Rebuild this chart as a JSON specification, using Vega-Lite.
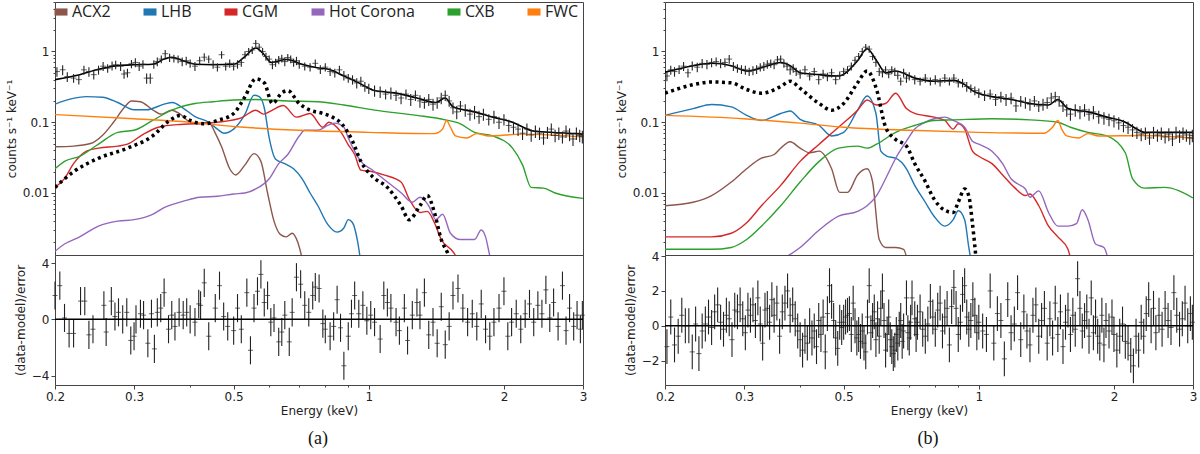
{
  "$schema": "https://vega.github.io/schema/vega-lite/v6.json",
  "padding": {"left": 4, "top": 1, "right": 2, "bottom": 0},
  "spacing": 26,
  "config": {
    "view": {"stroke": "#444", "strokeWidth": 1},
    "axis": {"labelFont": "DejaVu Sans", "labelFontSize": 12, "titleFont": "DejaVu Sans", "titleFontSize": 12, "titleFontWeight": "normal", "labelColor": "#222", "titleColor": "#222", "tickColor": "#444", "domain": false, "grid": false, "tickSize": 4, "labelPadding": 2, "labelOverlap": false, "labelFlush": false}
  },
  "datasets": {
    "da": [
      {"e":0.202,"y":0.52,"d":0.08},{"e":0.208,"y":0.55,"d":0.09},{"e":0.213,"y":0.44,"d":0.07},{"e":0.22,"y":0.42,"d":0.06},{"e":0.226,"y":0.40,"d":0.06},
      {"e":0.232,"y":0.55,"d":0.08},{"e":0.238,"y":0.52,"d":0.08},{"e":0.244,"y":0.47,"d":0.07},{"e":0.25,"y":0.55,"d":0.08},{"e":0.256,"y":0.62,"d":0.09},
      {"e":0.262,"y":0.58,"d":0.08},{"e":0.268,"y":0.63,"d":0.09},{"e":0.273,"y":0.65,"d":0.09},{"e":0.28,"y":0.62,"d":0.09},{"e":0.285,"y":0.48,"d":0.07},
      {"e":0.29,"y":0.50,"d":0.07},{"e":0.296,"y":0.67,"d":0.09},{"e":0.302,"y":0.70,"d":0.1},{"e":0.308,"y":0.62,"d":0.09},{"e":0.314,"y":0.66,"d":0.09},
      {"e":0.32,"y":0.42,"d":0.07},{"e":0.326,"y":0.42,"d":0.07},{"e":0.332,"y":0.66,"d":0.09},{"e":0.338,"y":0.72,"d":0.1},{"e":0.345,"y":0.78,"d":0.1},
      {"e":0.352,"y":0.93,"d":0.12},{"e":0.36,"y":0.82,"d":0.11},{"e":0.368,"y":0.80,"d":0.1},{"e":0.376,"y":0.78,"d":0.1},{"e":0.384,"y":0.72,"d":0.1},
      {"e":0.392,"y":0.74,"d":0.1},{"e":0.4,"y":0.68,"d":0.09},{"e":0.41,"y":0.62,"d":0.09},{"e":0.42,"y":0.74,"d":0.1},{"e":0.43,"y":0.83,"d":0.11},
      {"e":0.44,"y":0.78,"d":0.1},{"e":0.45,"y":0.66,"d":0.09},{"e":0.46,"y":0.60,"d":0.08},{"e":0.47,"y":0.90,"d":0.11},{"e":0.48,"y":0.62,"d":0.08},
      {"e":0.49,"y":0.68,"d":0.09},{"e":0.5,"y":0.62,"d":0.08},{"e":0.51,"y":0.66,"d":0.09},{"e":0.52,"y":0.70,"d":0.09},{"e":0.53,"y":0.90,"d":0.11},
      {"e":0.54,"y":1.0,"d":0.12},{"e":0.55,"y":1.05,"d":0.13},{"e":0.56,"y":1.3,"d":0.15},{"e":0.57,"y":1.15,"d":0.14},{"e":0.58,"y":1.0,"d":0.12},
      {"e":0.59,"y":0.85,"d":0.11},{"e":0.6,"y":0.78,"d":0.1},{"e":0.61,"y":0.65,"d":0.09},{"e":0.62,"y":0.70,"d":0.09},{"e":0.63,"y":0.76,"d":0.1},
      {"e":0.64,"y":0.80,"d":0.1},{"e":0.65,"y":0.72,"d":0.1},{"e":0.66,"y":0.82,"d":0.1},{"e":0.67,"y":0.78,"d":0.1},{"e":0.68,"y":0.70,"d":0.09},
      {"e":0.69,"y":0.74,"d":0.1},{"e":0.7,"y":0.66,"d":0.09},{"e":0.72,"y":0.62,"d":0.08},{"e":0.74,"y":0.60,"d":0.08},{"e":0.76,"y":0.68,"d":0.09},
      {"e":0.78,"y":0.56,"d":0.08},{"e":0.8,"y":0.60,"d":0.08},{"e":0.82,"y":0.52,"d":0.07},{"e":0.84,"y":0.50,"d":0.07},{"e":0.86,"y":0.55,"d":0.08},
      {"e":0.88,"y":0.46,"d":0.07},{"e":0.9,"y":0.42,"d":0.06},{"e":0.92,"y":0.40,"d":0.06},{"e":0.94,"y":0.36,"d":0.06},{"e":0.96,"y":0.38,"d":0.06},
      {"e":0.98,"y":0.32,"d":0.05},{"e":1.0,"y":0.30,"d":0.05},{"e":1.03,"y":0.28,"d":0.05},{"e":1.06,"y":0.27,"d":0.05},{"e":1.09,"y":0.25,"d":0.04},
      {"e":1.12,"y":0.26,"d":0.05},{"e":1.15,"y":0.24,"d":0.04},{"e":1.18,"y":0.22,"d":0.04},{"e":1.21,"y":0.25,"d":0.04},{"e":1.24,"y":0.21,"d":0.04},
      {"e":1.27,"y":0.24,"d":0.04},{"e":1.3,"y":0.20,"d":0.04},{"e":1.33,"y":0.19,"d":0.035},{"e":1.36,"y":0.21,"d":0.04},{"e":1.39,"y":0.18,"d":0.035},
      {"e":1.42,"y":0.19,"d":0.035},{"e":1.45,"y":0.22,"d":0.04},{"e":1.48,"y":0.24,"d":0.04},{"e":1.51,"y":0.20,"d":0.035},{"e":1.54,"y":0.16,"d":0.03},
      {"e":1.57,"y":0.14,"d":0.03},{"e":1.6,"y":0.17,"d":0.03},{"e":1.64,"y":0.15,"d":0.03},{"e":1.68,"y":0.13,"d":0.025},{"e":1.72,"y":0.14,"d":0.03},
      {"e":1.76,"y":0.12,"d":0.025},{"e":1.8,"y":0.13,"d":0.025},{"e":1.85,"y":0.11,"d":0.02},{"e":1.9,"y":0.12,"d":0.025},{"e":1.95,"y":0.10,"d":0.02},
      {"e":2.0,"y":0.11,"d":0.02},{"e":2.05,"y":0.09,"d":0.018},{"e":2.1,"y":0.085,"d":0.017},{"e":2.15,"y":0.08,"d":0.016},{"e":2.2,"y":0.07,"d":0.014},
      {"e":2.25,"y":0.08,"d":0.016},{"e":2.3,"y":0.066,"d":0.013},{"e":2.35,"y":0.075,"d":0.015},{"e":2.4,"y":0.07,"d":0.014},{"e":2.45,"y":0.06,"d":0.012},
      {"e":2.5,"y":0.072,"d":0.014},{"e":2.55,"y":0.08,"d":0.016},{"e":2.6,"y":0.065,"d":0.013},{"e":2.65,"y":0.07,"d":0.014},{"e":2.7,"y":0.062,"d":0.012},
      {"e":2.75,"y":0.075,"d":0.015},{"e":2.8,"y":0.068,"d":0.014},{"e":2.85,"y":0.058,"d":0.012},{"e":2.9,"y":0.07,"d":0.014},{"e":2.95,"y":0.065,"d":0.013},
      {"e":2.99,"y":0.063,"d":0.013}
    ],
    "ma": [
      {"e":0.2,"y":0.40},{"e":0.227,"y":0.47},{"e":0.25,"y":0.56},{"e":0.276,"y":0.63},{"e":0.3,"y":0.65},{"e":0.33,"y":0.66},
      {"e":0.35,"y":0.78},{"e":0.364,"y":0.83},{"e":0.386,"y":0.74},{"e":0.41,"y":0.66},{"e":0.45,"y":0.65},{"e":0.5,"y":0.66},
      {"e":0.528,"y":0.83},{"e":0.56,"y":1.12},{"e":0.583,"y":0.92},{"e":0.606,"y":0.70},{"e":0.656,"y":0.77},{"e":0.71,"y":0.66},
      {"e":0.767,"y":0.59},{"e":0.814,"y":0.56},{"e":0.88,"y":0.45},{"e":0.95,"y":0.36},{"e":1.03,"y":0.28},{"e":1.14,"y":0.26},
      {"e":1.28,"y":0.22},{"e":1.41,"y":0.19},{"e":1.48,"y":0.22},{"e":1.54,"y":0.165},{"e":1.72,"y":0.14},{"e":1.89,"y":0.118},
      {"e":2.09,"y":0.1},{"e":2.31,"y":0.076},{"e":2.54,"y":0.072},{"e":3.0,"y":0.068}
    ],
    "ka": [
      {"e":0.2,"y":0.012},{"e":0.22,"y":0.02},{"e":0.25,"y":0.031},{"e":0.29,"y":0.043},{"e":0.33,"y":0.064},{"e":0.36,"y":0.106},
      {"e":0.38,"y":0.125},{"e":0.4,"y":0.106},{"e":0.43,"y":0.095},{"e":0.46,"y":0.106},{"e":0.5,"y":0.133},{"e":0.53,"y":0.23},
      {"e":0.56,"y":0.41},{"e":0.585,"y":0.36},{"e":0.61,"y":0.184},{"e":0.64,"y":0.26},{"e":0.66,"y":0.28},{"e":0.7,"y":0.184},
      {"e":0.74,"y":0.148},{"e":0.79,"y":0.133},{"e":0.83,"y":0.118},{"e":0.87,"y":0.095},{"e":0.92,"y":0.054},{"e":0.96,"y":0.028},
      {"e":1.02,"y":0.017},{"e":1.1,"y":0.012},{"e":1.18,"y":0.0066},{"e":1.23,"y":0.0042},{"e":1.3,"y":0.0066},{"e":1.35,"y":0.0092},
      {"e":1.4,"y":0.0053},{"e":1.45,"y":0.0022},{"e":1.5,"y":0.0014},{"e":1.55,"y":0.0008}
    ],
    "ca": [
      {"c":"ACX2","e":0.2,"y":0.045},{"c":"ACX2","e":0.22,"y":0.046},{"c":"ACX2","e":0.24,"y":0.05},{"c":"ACX2","e":0.255,"y":0.065},{"c":"ACX2","e":0.27,"y":0.1},
      {"c":"ACX2","e":0.285,"y":0.16},{"c":"ACX2","e":0.296,"y":0.2},{"c":"ACX2","e":0.31,"y":0.195},{"c":"ACX2","e":0.33,"y":0.15},{"c":"ACX2","e":0.345,"y":0.13},
      {"c":"ACX2","e":0.364,"y":0.148},{"c":"ACX2","e":0.38,"y":0.13},{"c":"ACX2","e":0.4,"y":0.1},{"c":"ACX2","e":0.42,"y":0.095},{"c":"ACX2","e":0.44,"y":0.1},
      {"c":"ACX2","e":0.455,"y":0.07},{"c":"ACX2","e":0.47,"y":0.045},{"c":"ACX2","e":0.49,"y":0.022},{"c":"ACX2","e":0.505,"y":0.018},{"c":"ACX2","e":0.53,"y":0.025},
      {"c":"ACX2","e":0.555,"y":0.036},{"c":"ACX2","e":0.575,"y":0.028},{"c":"ACX2","e":0.595,"y":0.01},{"c":"ACX2","e":0.615,"y":0.004},{"c":"ACX2","e":0.635,"y":0.0026},
      {"c":"ACX2","e":0.655,"y":0.0024},{"c":"ACX2","e":0.675,"y":0.0027},{"c":"ACX2","e":0.695,"y":0.002},{"c":"ACX2","e":0.72,"y":0.0008},
      {"c":"LHB","e":0.2,"y":0.18},{"c":"LHB","e":0.215,"y":0.21},{"c":"LHB","e":0.235,"y":0.23},{"c":"LHB","e":0.255,"y":0.225},{"c":"LHB","e":0.276,"y":0.19},
      {"c":"LHB","e":0.3,"y":0.15},{"c":"LHB","e":0.32,"y":0.15},{"c":"LHB","e":0.35,"y":0.18},{"c":"LHB","e":0.365,"y":0.19},{"c":"LHB","e":0.385,"y":0.16},
      {"c":"LHB","e":0.41,"y":0.12},{"c":"LHB","e":0.44,"y":0.1},{"c":"LHB","e":0.46,"y":0.08},{"c":"LHB","e":0.475,"y":0.07},{"c":"LHB","e":0.5,"y":0.08},
      {"c":"LHB","e":0.53,"y":0.13},{"c":"LHB","e":0.555,"y":0.24},{"c":"LHB","e":0.57,"y":0.23},{"c":"LHB","e":0.585,"y":0.16},{"c":"LHB","e":0.6,"y":0.06},
      {"c":"LHB","e":0.62,"y":0.03},{"c":"LHB","e":0.65,"y":0.026},{"c":"LHB","e":0.68,"y":0.022},{"c":"LHB","e":0.71,"y":0.016},{"c":"LHB","e":0.74,"y":0.01},
      {"c":"LHB","e":0.77,"y":0.0066},{"c":"LHB","e":0.81,"y":0.0036},{"c":"LHB","e":0.85,"y":0.0028},{"c":"LHB","e":0.88,"y":0.0032},{"c":"LHB","e":0.9,"y":0.0042},
      {"c":"LHB","e":0.92,"y":0.0038},{"c":"LHB","e":0.945,"y":0.002},{"c":"LHB","e":0.965,"y":0.0008},
      {"c":"CGM","e":0.2,"y":0.012},{"c":"CGM","e":0.21,"y":0.016},{"c":"CGM","e":0.22,"y":0.026},{"c":"CGM","e":0.235,"y":0.039},{"c":"CGM","e":0.25,"y":0.043},
      {"c":"CGM","e":0.276,"y":0.046},{"c":"CGM","e":0.29,"y":0.049},{"c":"CGM","e":0.315,"y":0.068},{"c":"CGM","e":0.34,"y":0.085},{"c":"CGM","e":0.38,"y":0.093},
      {"c":"CGM","e":0.41,"y":0.095},{"c":"CGM","e":0.46,"y":0.1},{"c":"CGM","e":0.52,"y":0.115},{"c":"CGM","e":0.56,"y":0.148},{"c":"CGM","e":0.583,"y":0.13},
      {"c":"CGM","e":0.606,"y":0.145},{"c":"CGM","e":0.645,"y":0.172},{"c":"CGM","e":0.69,"y":0.118},{"c":"CGM","e":0.74,"y":0.133},{"c":"CGM","e":0.79,"y":0.085},
      {"c":"CGM","e":0.814,"y":0.1},{"c":"CGM","e":0.87,"y":0.07},{"c":"CGM","e":0.9,"y":0.048},{"c":"CGM","e":0.93,"y":0.035},{"c":"CGM","e":0.96,"y":0.021},
      {"c":"CGM","e":1.02,"y":0.02},{"c":"CGM","e":1.08,"y":0.018},{"c":"CGM","e":1.18,"y":0.0143},{"c":"CGM","e":1.23,"y":0.0082},{"c":"CGM","e":1.3,"y":0.0053},
      {"c":"CGM","e":1.35,"y":0.0055},{"c":"CGM","e":1.4,"y":0.0038},{"c":"CGM","e":1.45,"y":0.0022},{"c":"CGM","e":1.55,"y":0.0014},{"c":"CGM","e":1.6,"y":0.0009},
      {"c":"Hot Corona","e":0.2,"y":0.0015},{"c":"Hot Corona","e":0.21,"y":0.0019},{"c":"Hot Corona","e":0.227,"y":0.0024},{"c":"Hot Corona","e":0.25,"y":0.0034},
      {"c":"Hot Corona","e":0.276,"y":0.004},{"c":"Hot Corona","e":0.3,"y":0.0042},{"c":"Hot Corona","e":0.33,"y":0.005},{"c":"Hot Corona","e":0.35,"y":0.0062},
      {"c":"Hot Corona","e":0.39,"y":0.0078},{"c":"Hot Corona","e":0.42,"y":0.0087},{"c":"Hot Corona","e":0.46,"y":0.009},{"c":"Hot Corona","e":0.5,"y":0.0097},
      {"c":"Hot Corona","e":0.53,"y":0.01},{"c":"Hot Corona","e":0.56,"y":0.0114},{"c":"Hot Corona","e":0.6,"y":0.0159},{"c":"Hot Corona","e":0.63,"y":0.026},
      {"c":"Hot Corona","e":0.66,"y":0.035},{"c":"Hot Corona","e":0.7,"y":0.064},{"c":"Hot Corona","e":0.72,"y":0.077},{"c":"Hot Corona","e":0.77,"y":0.077},
      {"c":"Hot Corona","e":0.81,"y":0.09},{"c":"Hot Corona","e":0.84,"y":0.097},{"c":"Hot Corona","e":0.88,"y":0.085},{"c":"Hot Corona","e":0.9,"y":0.06},
      {"c":"Hot Corona","e":0.93,"y":0.039},{"c":"Hot Corona","e":0.96,"y":0.028},{"c":"Hot Corona","e":1.02,"y":0.021},{"c":"Hot Corona","e":1.1,"y":0.0143},
      {"c":"Hot Corona","e":1.18,"y":0.0101},{"c":"Hot Corona","e":1.25,"y":0.0074},{"c":"Hot Corona","e":1.3,"y":0.0087},{"c":"Hot Corona","e":1.36,"y":0.0066},
      {"c":"Hot Corona","e":1.41,"y":0.0042},{"c":"Hot Corona","e":1.46,"y":0.005},{"c":"Hot Corona","e":1.52,"y":0.0027},{"c":"Hot Corona","e":1.6,"y":0.0022},
      {"c":"Hot Corona","e":1.72,"y":0.0022},{"c":"Hot Corona","e":1.78,"y":0.003},{"c":"Hot Corona","e":1.82,"y":0.0024},{"c":"Hot Corona","e":1.86,"y":0.0013},
      {"c":"Hot Corona","e":1.9,"y":0.0008},
      {"c":"CXB","e":0.2,"y":0.022},{"c":"CXB","e":0.21,"y":0.028},{"c":"CXB","e":0.227,"y":0.033},{"c":"CXB","e":0.25,"y":0.049},{"c":"CXB","e":0.276,"y":0.072},
      {"c":"CXB","e":0.3,"y":0.077},{"c":"CXB","e":0.33,"y":0.106},{"c":"CXB","e":0.364,"y":0.148},{"c":"CXB","e":0.41,"y":0.184},{"c":"CXB","e":0.45,"y":0.195},
      {"c":"CXB","e":0.5,"y":0.206},{"c":"CXB","e":0.56,"y":0.21},{"c":"CXB","e":0.66,"y":0.2},{"c":"CXB","e":0.77,"y":0.195},{"c":"CXB","e":0.88,"y":0.175},
      {"c":"CXB","e":1.03,"y":0.148},{"c":"CXB","e":1.28,"y":0.125},{"c":"CXB","e":1.48,"y":0.108},{"c":"CXB","e":1.6,"y":0.095},{"c":"CXB","e":1.72,"y":0.072},
      {"c":"CXB","e":1.89,"y":0.064},{"c":"CXB","e":2.09,"y":0.043},{"c":"CXB","e":2.2,"y":0.025},{"c":"CXB","e":2.3,"y":0.012},{"c":"CXB","e":2.45,"y":0.0117},
      {"c":"CXB","e":2.6,"y":0.01},{"c":"CXB","e":3.0,"y":0.0084},
      {"c":"FWC","e":0.2,"y":0.128},{"c":"FWC","e":0.3,"y":0.112},{"c":"FWC","e":0.4,"y":0.1},{"c":"FWC","e":0.5,"y":0.087},{"c":"FWC","e":0.7,"y":0.077},
      {"c":"FWC","e":1.0,"y":0.072},{"c":"FWC","e":1.4,"y":0.069},{"c":"FWC","e":1.46,"y":0.08},{"c":"FWC","e":1.49,"y":0.106},{"c":"FWC","e":1.52,"y":0.085},
      {"c":"FWC","e":1.56,"y":0.064},{"c":"FWC","e":1.65,"y":0.06},{"c":"FWC","e":1.74,"y":0.069},{"c":"FWC","e":1.85,"y":0.064},{"c":"FWC","e":2.2,"y":0.068},
      {"c":"FWC","e":3.0,"y":0.062}
    ],
    "ra": [
      {"e":0.2,"r":1.7,"d":1},{"e":0.205,"r":2.4,"d":1},{"e":0.21,"r":0.1,"d":1},{"e":0.215,"r":-1.0,"d":1},{"e":0.22,"r":-1.0,"d":1},{"e":0.228,"r":1.3,"d":1},{"e":0.233,"r":1.3,"d":1},
      {"e":0.238,"r":-1.1,"d":1},{"e":0.243,"r":-0.7,"d":1},{"e":0.257,"r":1.0,"d":1},{"e":0.26,"r":-0.9,"d":1},{"e":0.267,"r":1.3,"d":1},{"e":0.272,"r":0.2,"d":1},{"e":0.277,"r":0.5,"d":1},
      {"e":0.283,"r":0.0,"d":1},{"e":0.289,"r":0.5,"d":1},{"e":0.295,"r":-1.5,"d":1},{"e":0.3,"r":-1.2,"d":1},{"e":0.303,"r":0.0,"d":1},{"e":0.31,"r":0.4,"d":1},{"e":0.315,"r":0.3,"d":1},
      {"e":0.322,"r":-1.7,"d":1},{"e":0.328,"r":0.4,"d":1},{"e":0.333,"r":-2.1,"d":1},{"e":0.338,"r":0.5,"d":1},{"e":0.344,"r":0.8,"d":1},{"e":0.35,"r":1.9,"d":1},{"e":0.358,"r":-0.7,"d":1},
      {"e":0.364,"r":0.3,"d":1},{"e":0.37,"r":-0.5,"d":1},{"e":0.378,"r":0.5,"d":1},{"e":0.386,"r":0.3,"d":1},{"e":0.393,"r":0.5,"d":1},{"e":0.4,"r":0.0,"d":1},{"e":0.41,"r":-0.2,"d":1},
      {"e":0.418,"r":1.1,"d":1},{"e":0.422,"r":1.0,"d":1},{"e":0.43,"r":2.6,"d":1},{"e":0.44,"r":-1.2,"d":1},{"e":0.455,"r":0.8,"d":1},{"e":0.465,"r":2.4,"d":1},{"e":0.475,"r":0.2,"d":1},
      {"e":0.485,"r":-0.5,"d":1},{"e":0.5,"r":-0.8,"d":1},{"e":0.51,"r":0.8,"d":1},{"e":0.52,"r":-0.7,"d":1},{"e":0.535,"r":1.9,"d":1},{"e":0.545,"r":-2.2,"d":1},{"e":0.555,"r":0.8,"d":1},
      {"e":0.565,"r":2.0,"d":1},{"e":0.575,"r":3.2,"d":1},{"e":0.585,"r":1.2,"d":1},{"e":0.595,"r":1.7,"d":1},{"e":0.605,"r":-0.2,"d":1},{"e":0.615,"r":0.1,"d":1},{"e":0.63,"r":-1.6,"d":1},
      {"e":0.64,"r":-0.9,"d":1},{"e":0.65,"r":0.3,"d":1},{"e":0.665,"r":-1.6,"d":1},{"e":0.675,"r":0.5,"d":1},{"e":0.69,"r":3.0,"d":1},{"e":0.705,"r":2.5,"d":1},{"e":0.72,"r":1.0,"d":1},
      {"e":0.735,"r":0.5,"d":1},{"e":0.75,"r":1.7,"d":1},{"e":0.76,"r":2.3,"d":1},{"e":0.775,"r":2.2,"d":1},{"e":0.79,"r":-0.3,"d":1},{"e":0.8,"r":-0.7,"d":1},{"e":0.82,"r":-1.2,"d":1},
      {"e":0.835,"r":-0.5,"d":1},{"e":0.85,"r":1.4,"d":1},{"e":0.865,"r":-0.6,"d":1},{"e":0.88,"r":-3.3,"d":1},{"e":0.9,"r":-1.2,"d":1},{"e":0.915,"r":0.4,"d":1},{"e":0.93,"r":1.7,"d":1},
      {"e":0.95,"r":0.4,"d":1},{"e":0.97,"r":1.0,"d":1},{"e":0.99,"r":-0.1,"d":1},{"e":1.01,"r":0.3,"d":1},{"e":1.03,"r":-0.2,"d":1},{"e":1.06,"r":-1.4,"d":1},{"e":1.08,"r":1.7,"d":1},
      {"e":1.1,"r":1.2,"d":1},{"e":1.12,"r":0.8,"d":1},{"e":1.15,"r":-0.2,"d":1},{"e":1.17,"r":-0.8,"d":1},{"e":1.2,"r":0.8,"d":1},{"e":1.22,"r":-1.5,"d":1},{"e":1.25,"r":0.3,"d":1},
      {"e":1.28,"r":1.2,"d":1},{"e":1.3,"r":0.3,"d":1},{"e":1.33,"r":1.9,"d":1},{"e":1.36,"r":-1.1,"d":1},{"e":1.39,"r":-0.2,"d":1},{"e":1.42,"r":-1.7,"d":1},{"e":1.45,"r":0.9,"d":1},
      {"e":1.48,"r":-1.8,"d":1},{"e":1.51,"r":-0.5,"d":1},{"e":1.54,"r":1.7,"d":1},{"e":1.58,"r":2.2,"d":1},{"e":1.62,"r":0.8,"d":1},{"e":1.66,"r":-0.2,"d":1},{"e":1.7,"r":0.4,"d":1},
      {"e":1.74,"r":-0.5,"d":1},{"e":1.78,"r":1.1,"d":1},{"e":1.82,"r":-0.7,"d":1},{"e":1.86,"r":-1.2,"d":1},{"e":1.9,"r":-0.2,"d":1},{"e":1.95,"r":0.8,"d":1},{"e":2.0,"r":2.0,"d":1},
      {"e":2.04,"r":-1.2,"d":1},{"e":2.08,"r":-0.2,"d":1},{"e":2.13,"r":0.4,"d":1},{"e":2.18,"r":-0.7,"d":1},{"e":2.23,"r":0.4,"d":1},{"e":2.28,"r":1.1,"d":1},{"e":2.33,"r":-0.2,"d":1},
      {"e":2.38,"r":1.0,"d":1},{"e":2.43,"r":0.4,"d":1},{"e":2.48,"r":2.1,"d":1},{"e":2.53,"r":0.1,"d":1},{"e":2.58,"r":1.2,"d":1},{"e":2.64,"r":-0.5,"d":1},{"e":2.7,"r":2.4,"d":1},
      {"e":2.75,"r":-0.8,"d":1},{"e":2.8,"r":0.8,"d":1},{"e":2.86,"r":-0.5,"d":1},{"e":2.91,"r":0.3,"d":1},{"e":2.96,"r":-0.7,"d":1},{"e":2.99,"r":0.3,"d":1}
    ],
    "db": [
      {"e":0.202,"y":0.45,"d":0.07},{"e":0.206,"y":0.55,"d":0.08},{"e":0.21,"y":0.52,"d":0.08},{"e":0.215,"y":0.56,"d":0.08},{"e":0.22,"y":0.62,"d":0.09},
      {"e":0.225,"y":0.50,"d":0.07},{"e":0.23,"y":0.63,"d":0.09},{"e":0.236,"y":0.60,"d":0.09},{"e":0.242,"y":0.68,"d":0.1},{"e":0.248,"y":0.66,"d":0.1},
      {"e":0.254,"y":0.70,"d":0.1},{"e":0.26,"y":0.72,"d":0.1},{"e":0.266,"y":0.68,"d":0.1},{"e":0.272,"y":0.70,"d":0.1},{"e":0.278,"y":0.78,"d":0.11},
      {"e":0.284,"y":0.62,"d":0.09},{"e":0.29,"y":0.58,"d":0.08},{"e":0.296,"y":0.56,"d":0.08},{"e":0.302,"y":0.55,"d":0.08},{"e":0.308,"y":0.52,"d":0.07},
      {"e":0.314,"y":0.54,"d":0.08},{"e":0.32,"y":0.56,"d":0.08},{"e":0.326,"y":0.60,"d":0.08},{"e":0.332,"y":0.62,"d":0.09},{"e":0.338,"y":0.66,"d":0.09},
      {"e":0.344,"y":0.68,"d":0.09},{"e":0.35,"y":0.65,"d":0.09},{"e":0.356,"y":0.76,"d":0.1},{"e":0.362,"y":0.78,"d":0.1},{"e":0.368,"y":0.68,"d":0.09},
      {"e":0.374,"y":0.62,"d":0.08},{"e":0.38,"y":0.55,"d":0.08},{"e":0.386,"y":0.58,"d":0.08},{"e":0.392,"y":0.52,"d":0.07},{"e":0.4,"y":0.48,"d":0.07},
      {"e":0.41,"y":0.55,"d":0.08},{"e":0.42,"y":0.45,"d":0.06},{"e":0.43,"y":0.52,"d":0.07},{"e":0.44,"y":0.40,"d":0.06},{"e":0.45,"y":0.48,"d":0.07},
      {"e":0.46,"y":0.44,"d":0.06},{"e":0.47,"y":0.50,"d":0.07},{"e":0.48,"y":0.40,"d":0.06},{"e":0.49,"y":0.46,"d":0.06},{"e":0.5,"y":0.52,"d":0.07},
      {"e":0.51,"y":0.55,"d":0.07},{"e":0.52,"y":0.62,"d":0.08},{"e":0.53,"y":0.75,"d":0.09},{"e":0.54,"y":0.85,"d":0.1},{"e":0.55,"y":1.0,"d":0.12},
      {"e":0.56,"y":1.15,"d":0.13},{"e":0.57,"y":1.08,"d":0.12},{"e":0.58,"y":0.85,"d":0.1},{"e":0.59,"y":0.70,"d":0.09},{"e":0.6,"y":0.52,"d":0.07},
      {"e":0.61,"y":0.50,"d":0.07},{"e":0.62,"y":0.55,"d":0.07},{"e":0.63,"y":0.48,"d":0.06},{"e":0.64,"y":0.55,"d":0.07},{"e":0.65,"y":0.52,"d":0.07},
      {"e":0.66,"y":0.46,"d":0.06},{"e":0.67,"y":0.38,"d":0.05},{"e":0.68,"y":0.50,"d":0.07},{"e":0.69,"y":0.42,"d":0.06},{"e":0.7,"y":0.45,"d":0.06},
      {"e":0.72,"y":0.40,"d":0.06},{"e":0.74,"y":0.38,"d":0.05},{"e":0.76,"y":0.42,"d":0.06},{"e":0.78,"y":0.38,"d":0.05},{"e":0.8,"y":0.40,"d":0.06},
      {"e":0.82,"y":0.37,"d":0.05},{"e":0.84,"y":0.42,"d":0.06},{"e":0.86,"y":0.38,"d":0.05},{"e":0.88,"y":0.42,"d":0.06},{"e":0.9,"y":0.36,"d":0.05},
      {"e":0.92,"y":0.36,"d":0.05},{"e":0.94,"y":0.32,"d":0.05},{"e":0.96,"y":0.30,"d":0.04},{"e":0.98,"y":0.28,"d":0.04},{"e":1.0,"y":0.26,"d":0.04},
      {"e":1.03,"y":0.24,"d":0.04},{"e":1.06,"y":0.25,"d":0.04},{"e":1.09,"y":0.21,"d":0.04},{"e":1.12,"y":0.23,"d":0.04},{"e":1.15,"y":0.21,"d":0.04},
      {"e":1.18,"y":0.22,"d":0.04},{"e":1.21,"y":0.17,"d":0.03},{"e":1.24,"y":0.20,"d":0.035},{"e":1.27,"y":0.19,"d":0.035},{"e":1.3,"y":0.18,"d":0.035},
      {"e":1.33,"y":0.20,"d":0.035},{"e":1.36,"y":0.17,"d":0.03},{"e":1.39,"y":0.18,"d":0.035},{"e":1.42,"y":0.19,"d":0.035},{"e":1.45,"y":0.22,"d":0.04},
      {"e":1.48,"y":0.23,"d":0.04},{"e":1.51,"y":0.20,"d":0.035},{"e":1.54,"y":0.17,"d":0.03},{"e":1.57,"y":0.15,"d":0.03},{"e":1.6,"y":0.13,"d":0.025},
      {"e":1.64,"y":0.15,"d":0.03},{"e":1.68,"y":0.14,"d":0.03},{"e":1.72,"y":0.15,"d":0.03},{"e":1.76,"y":0.13,"d":0.025},{"e":1.8,"y":0.14,"d":0.03},
      {"e":1.85,"y":0.12,"d":0.025},{"e":1.9,"y":0.115,"d":0.023},{"e":1.95,"y":0.11,"d":0.022},{"e":2.0,"y":0.105,"d":0.021},{"e":2.05,"y":0.098,"d":0.02},
      {"e":2.1,"y":0.09,"d":0.018},{"e":2.15,"y":0.085,"d":0.017},{"e":2.2,"y":0.078,"d":0.016},{"e":2.25,"y":0.072,"d":0.014},{"e":2.3,"y":0.068,"d":0.014},
      {"e":2.35,"y":0.07,"d":0.014},{"e":2.4,"y":0.06,"d":0.012},{"e":2.45,"y":0.072,"d":0.014},{"e":2.5,"y":0.066,"d":0.013},{"e":2.55,"y":0.07,"d":0.014},
      {"e":2.6,"y":0.062,"d":0.012},{"e":2.65,"y":0.068,"d":0.014},{"e":2.7,"y":0.058,"d":0.012},{"e":2.75,"y":0.072,"d":0.014},{"e":2.8,"y":0.064,"d":0.013},
      {"e":2.85,"y":0.07,"d":0.014},{"e":2.9,"y":0.066,"d":0.013},{"e":2.95,"y":0.06,"d":0.012},{"e":2.99,"y":0.065,"d":0.013}
    ],
    "mb": [
      {"e":0.2,"y":0.51},{"e":0.231,"y":0.63},{"e":0.254,"y":0.68},{"e":0.281,"y":0.63},{"e":0.304,"y":0.53},{"e":0.328,"y":0.59},
      {"e":0.362,"y":0.70},{"e":0.38,"y":0.63},{"e":0.4,"y":0.50},{"e":0.441,"y":0.47},{"e":0.487,"y":0.45},{"e":0.537,"y":0.74},
      {"e":0.564,"y":1.09},{"e":0.592,"y":0.74},{"e":0.62,"y":0.50},{"e":0.653,"y":0.53},{"e":0.72,"y":0.42},{"e":0.795,"y":0.38},
      {"e":0.877,"y":0.39},{"e":0.93,"y":0.34},{"e":0.968,"y":0.28},{"e":1.07,"y":0.23},{"e":1.18,"y":0.21},{"e":1.3,"y":0.184},
      {"e":1.43,"y":0.175},{"e":1.5,"y":0.21},{"e":1.58,"y":0.156},{"e":1.75,"y":0.14},{"e":1.93,"y":0.118},{"e":2.12,"y":0.1},
      {"e":2.25,"y":0.08},{"e":2.34,"y":0.072},{"e":2.59,"y":0.072},{"e":3.0,"y":0.072}
    ],
    "kb": [
      {"e":0.2,"y":0.257},{"e":0.231,"y":0.34},{"e":0.254,"y":0.37},{"e":0.281,"y":0.36},{"e":0.304,"y":0.29},{"e":0.328,"y":0.257},
      {"e":0.362,"y":0.32},{"e":0.38,"y":0.38},{"e":0.4,"y":0.30},{"e":0.441,"y":0.184},{"e":0.47,"y":0.148},{"e":0.5,"y":0.184},
      {"e":0.537,"y":0.36},{"e":0.564,"y":0.53},{"e":0.592,"y":0.29},{"e":0.62,"y":0.085},{"e":0.653,"y":0.057},{"e":0.69,"y":0.046},
      {"e":0.72,"y":0.026},{"e":0.76,"y":0.0145},{"e":0.795,"y":0.0082},{"e":0.84,"y":0.0057},{"e":0.877,"y":0.0053},{"e":0.9,"y":0.0074},
      {"e":0.93,"y":0.0114},{"e":0.95,"y":0.0091},{"e":0.968,"y":0.0037},{"e":0.99,"y":0.0009}
    ],
    "cb": [
      {"c":"ACX2","e":0.2,"y":0.0066},{"c":"ACX2","e":0.231,"y":0.0074},{"c":"ACX2","e":0.254,"y":0.0092},{"c":"ACX2","e":0.281,"y":0.0143},{"c":"ACX2","e":0.304,"y":0.022},
      {"c":"ACX2","e":0.328,"y":0.031},{"c":"ACX2","e":0.35,"y":0.035},{"c":"ACX2","e":0.362,"y":0.043},{"c":"ACX2","e":0.38,"y":0.053},{"c":"ACX2","e":0.4,"y":0.043},
      {"c":"ACX2","e":0.42,"y":0.037},{"c":"ACX2","e":0.441,"y":0.039},{"c":"ACX2","e":0.47,"y":0.022},{"c":"ACX2","e":0.49,"y":0.0102},{"c":"ACX2","e":0.51,"y":0.0102},
      {"c":"ACX2","e":0.537,"y":0.018},{"c":"ACX2","e":0.564,"y":0.022},{"c":"ACX2","e":0.58,"y":0.0143},{"c":"ACX2","e":0.6,"y":0.0022},{"c":"ACX2","e":0.62,"y":0.0017},
      {"c":"ACX2","e":0.653,"y":0.0017},{"c":"ACX2","e":0.68,"y":0.0016},{"c":"ACX2","e":0.7,"y":0.0008},
      {"c":"LHB","e":0.2,"y":0.125},{"c":"LHB","e":0.231,"y":0.156},{"c":"LHB","e":0.254,"y":0.178},{"c":"LHB","e":0.281,"y":0.165},{"c":"LHB","e":0.304,"y":0.125},
      {"c":"LHB","e":0.328,"y":0.106},{"c":"LHB","e":0.362,"y":0.133},{"c":"LHB","e":0.38,"y":0.144},{"c":"LHB","e":0.4,"y":0.11},{"c":"LHB","e":0.441,"y":0.09},
      {"c":"LHB","e":0.47,"y":0.064},{"c":"LHB","e":0.5,"y":0.072},{"c":"LHB","e":0.537,"y":0.148},{"c":"LHB","e":0.564,"y":0.235},{"c":"LHB","e":0.59,"y":0.133},
      {"c":"LHB","e":0.605,"y":0.039},{"c":"LHB","e":0.625,"y":0.033},{"c":"LHB","e":0.653,"y":0.031},{"c":"LHB","e":0.69,"y":0.022},{"c":"LHB","e":0.72,"y":0.0128},
      {"c":"LHB","e":0.76,"y":0.0074},{"c":"LHB","e":0.795,"y":0.0047},{"c":"LHB","e":0.84,"y":0.0034},{"c":"LHB","e":0.877,"y":0.0042},{"c":"LHB","e":0.9,"y":0.0056},
      {"c":"LHB","e":0.93,"y":0.0042},{"c":"LHB","e":0.95,"y":0.0017},{"c":"LHB","e":0.97,"y":0.0008},
      {"c":"CGM","e":0.2,"y":0.0024},{"c":"CGM","e":0.231,"y":0.0024},{"c":"CGM","e":0.254,"y":0.0024},{"c":"CGM","e":0.281,"y":0.0027},{"c":"CGM","e":0.304,"y":0.0038},
      {"c":"CGM","e":0.328,"y":0.0066},{"c":"CGM","e":0.362,"y":0.0128},{"c":"CGM","e":0.4,"y":0.028},{"c":"CGM","e":0.441,"y":0.049},{"c":"CGM","e":0.487,"y":0.085},
      {"c":"CGM","e":0.537,"y":0.148},{"c":"CGM","e":0.564,"y":0.206},{"c":"CGM","e":0.592,"y":0.175},{"c":"CGM","e":0.62,"y":0.184},{"c":"CGM","e":0.653,"y":0.257},
      {"c":"CGM","e":0.69,"y":0.156},{"c":"CGM","e":0.72,"y":0.133},{"c":"CGM","e":0.795,"y":0.118},{"c":"CGM","e":0.84,"y":0.106},{"c":"CGM","e":0.877,"y":0.08},
      {"c":"CGM","e":0.9,"y":0.095},{"c":"CGM","e":0.93,"y":0.08},{"c":"CGM","e":0.968,"y":0.039},{"c":"CGM","e":1.0,"y":0.033},{"c":"CGM","e":1.07,"y":0.026},
      {"c":"CGM","e":1.13,"y":0.018},{"c":"CGM","e":1.2,"y":0.012},{"c":"CGM","e":1.27,"y":0.0092},{"c":"CGM","e":1.3,"y":0.0097},{"c":"CGM","e":1.36,"y":0.0066},
      {"c":"CGM","e":1.43,"y":0.0034},{"c":"CGM","e":1.5,"y":0.0024},{"c":"CGM","e":1.58,"y":0.0016},{"c":"CGM","e":1.62,"y":0.0008},
      {"c":"Hot Corona","e":0.36,"y":0.0011},{"c":"Hot Corona","e":0.4,"y":0.0017},{"c":"Hot Corona","e":0.441,"y":0.003},{"c":"Hot Corona","e":0.487,"y":0.0047},
      {"c":"Hot Corona","e":0.537,"y":0.0055},{"c":"Hot Corona","e":0.564,"y":0.0066},{"c":"Hot Corona","e":0.592,"y":0.0092},{"c":"Hot Corona","e":0.62,"y":0.0159},
      {"c":"Hot Corona","e":0.653,"y":0.031},{"c":"Hot Corona","e":0.69,"y":0.054},{"c":"Hot Corona","e":0.72,"y":0.08},{"c":"Hot Corona","e":0.76,"y":0.1},
      {"c":"Hot Corona","e":0.795,"y":0.112},{"c":"Hot Corona","e":0.84,"y":0.118},{"c":"Hot Corona","e":0.877,"y":0.106},{"c":"Hot Corona","e":0.93,"y":0.085},
      {"c":"Hot Corona","e":0.968,"y":0.054},{"c":"Hot Corona","e":1.0,"y":0.049},{"c":"Hot Corona","e":1.07,"y":0.039},{"c":"Hot Corona","e":1.13,"y":0.026},
      {"c":"Hot Corona","e":1.18,"y":0.0159},{"c":"Hot Corona","e":1.22,"y":0.0135},{"c":"Hot Corona","e":1.27,"y":0.0114},{"c":"Hot Corona","e":1.3,"y":0.0087},
      {"c":"Hot Corona","e":1.36,"y":0.0107},{"c":"Hot Corona","e":1.43,"y":0.0053},{"c":"Hot Corona","e":1.5,"y":0.0034},{"c":"Hot Corona","e":1.58,"y":0.0034},
      {"c":"Hot Corona","e":1.65,"y":0.0037},{"c":"Hot Corona","e":1.7,"y":0.0058},{"c":"Hot Corona","e":1.75,"y":0.0042},{"c":"Hot Corona","e":1.82,"y":0.0019},
      {"c":"Hot Corona","e":1.9,"y":0.0017},{"c":"Hot Corona","e":1.96,"y":0.0009},
      {"c":"CXB","e":0.2,"y":0.0016},{"c":"CXB","e":0.254,"y":0.0016},{"c":"CXB","e":0.281,"y":0.0017},{"c":"CXB","e":0.304,"y":0.0022},{"c":"CXB","e":0.328,"y":0.0034},
      {"c":"CXB","e":0.362,"y":0.0066},{"c":"CXB","e":0.4,"y":0.0143},{"c":"CXB","e":0.441,"y":0.028},{"c":"CXB","e":0.487,"y":0.043},{"c":"CXB","e":0.537,"y":0.046},
      {"c":"CXB","e":0.564,"y":0.043},{"c":"CXB","e":0.592,"y":0.049},{"c":"CXB","e":0.653,"y":0.072},{"c":"CXB","e":0.72,"y":0.09},{"c":"CXB","e":0.795,"y":0.106},
      {"c":"CXB","e":0.877,"y":0.108},{"c":"CXB","e":1.07,"y":0.112},{"c":"CXB","e":1.3,"y":0.108},{"c":"CXB","e":1.5,"y":0.1},{"c":"CXB","e":1.6,"y":0.085},
      {"c":"CXB","e":1.75,"y":0.072},{"c":"CXB","e":1.93,"y":0.064},{"c":"CXB","e":2.12,"y":0.037},{"c":"CXB","e":2.2,"y":0.016},{"c":"CXB","e":2.34,"y":0.0117},
      {"c":"CXB","e":2.59,"y":0.012},{"c":"CXB","e":3.0,"y":0.0085},
      {"c":"FWC","e":0.2,"y":0.125},{"c":"FWC","e":0.3,"y":0.112},{"c":"FWC","e":0.4,"y":0.097},{"c":"FWC","e":0.5,"y":0.085},{"c":"FWC","e":0.7,"y":0.077},
      {"c":"FWC","e":1.0,"y":0.072},{"c":"FWC","e":1.4,"y":0.07},{"c":"FWC","e":1.46,"y":0.085},{"c":"FWC","e":1.5,"y":0.106},{"c":"FWC","e":1.53,"y":0.08},
      {"c":"FWC","e":1.57,"y":0.064},{"c":"FWC","e":1.67,"y":0.06},{"c":"FWC","e":1.75,"y":0.069},{"c":"FWC","e":1.85,"y":0.064},{"c":"FWC","e":2.3,"y":0.065},
      {"c":"FWC","e":3.0,"y":0.06}
    ],
    "rb": [
      {"e":0.202,"r":-1.2,"d":1},{"e":0.206,"r":0.5,"d":1},{"e":0.21,"r":-1.1,"d":1},{"e":0.214,"r":-0.6,"d":1},{"e":0.218,"r":0.6,"d":1},{"e":0.222,"r":0.0,"d":1},{"e":0.226,"r":0.0,"d":1},
      {"e":0.23,"r":-1.5,"d":1},{"e":0.234,"r":0.1,"d":1},{"e":0.238,"r":-1.6,"d":1},{"e":0.242,"r":-0.3,"d":1},{"e":0.246,"r":0.1,"d":1},{"e":0.25,"r":0.5,"d":1},{"e":0.254,"r":-0.1,"d":1},
      {"e":0.258,"r":0.8,"d":1},{"e":0.262,"r":1.2,"d":1},{"e":0.266,"r":0.2,"d":1},{"e":0.27,"r":-0.2,"d":1},{"e":0.274,"r":0.6,"d":1},{"e":0.278,"r":0.4,"d":1},{"e":0.282,"r":-0.8,"d":1},
      {"e":0.286,"r":0.9,"d":1},{"e":0.29,"r":0.8,"d":1},{"e":0.294,"r":1.2,"d":1},{"e":0.298,"r":0.4,"d":1},{"e":0.302,"r":-0.4,"d":1},{"e":0.306,"r":0.9,"d":1},{"e":0.31,"r":0.6,"d":1},
      {"e":0.314,"r":1.2,"d":1},{"e":0.318,"r":0.3,"d":1},{"e":0.322,"r":1.6,"d":1},{"e":0.326,"r":0.1,"d":1},{"e":0.33,"r":-1.0,"d":1},{"e":0.334,"r":0.9,"d":1},{"e":0.338,"r":1.0,"d":1},
      {"e":0.342,"r":0.2,"d":1},{"e":0.346,"r":1.5,"d":1},{"e":0.35,"r":0.6,"d":1},{"e":0.355,"r":1.3,"d":1},{"e":0.36,"r":-0.6,"d":1},{"e":0.365,"r":0.8,"d":1},{"e":0.37,"r":1.3,"d":1},
      {"e":0.375,"r":2.0,"d":1},{"e":0.38,"r":0.6,"d":1},{"e":0.385,"r":1.2,"d":1},{"e":0.39,"r":0.4,"d":1},{"e":0.395,"r":-0.3,"d":1},{"e":0.4,"r":-0.8,"d":1},{"e":0.405,"r":-1.4,"d":1},
      {"e":0.41,"r":-0.6,"d":1},{"e":0.415,"r":-1.0,"d":1},{"e":0.42,"r":0.0,"d":1},{"e":0.425,"r":-0.7,"d":1},{"e":0.43,"r":-0.3,"d":1},{"e":0.435,"r":-1.2,"d":1},{"e":0.44,"r":0.3,"d":1},
      {"e":0.445,"r":-0.5,"d":1},{"e":0.45,"r":0.5,"d":1},{"e":0.455,"r":-1.5,"d":1},{"e":0.46,"r":0.7,"d":1},{"e":0.465,"r":2.3,"d":1},{"e":0.47,"r":1.4,"d":1},{"e":0.475,"r":0.3,"d":1},
      {"e":0.48,"r":-0.7,"d":1},{"e":0.485,"r":-1.3,"d":1},{"e":0.49,"r":0.2,"d":1},{"e":0.495,"r":-0.1,"d":1},{"e":0.5,"r":0.2,"d":1},{"e":0.505,"r":0.5,"d":1},{"e":0.51,"r":0.6,"d":1},
      {"e":0.515,"r":0.7,"d":1},{"e":0.52,"r":-0.5,"d":1},{"e":0.525,"r":1.3,"d":1},{"e":0.53,"r":0.0,"d":1},{"e":0.535,"r":-0.7,"d":1},{"e":0.54,"r":-0.5,"d":1},{"e":0.545,"r":-0.9,"d":1},
      {"e":0.55,"r":-0.3,"d":1},{"e":0.555,"r":-1.0,"d":1},{"e":0.56,"r":-1.5,"d":1},{"e":0.565,"r":0.5,"d":1},{"e":0.57,"r":2.3,"d":1},{"e":0.575,"r":-0.4,"d":1},{"e":0.58,"r":0.3,"d":1},
      {"e":0.585,"r":0.8,"d":1},{"e":0.59,"r":-0.8,"d":1},{"e":0.595,"r":0.4,"d":1},{"e":0.6,"r":-0.6,"d":1},{"e":0.605,"r":1.0,"d":1},{"e":0.61,"r":2.0,"d":1},{"e":0.615,"r":0.3,"d":1},
      {"e":0.62,"r":-1.4,"d":1},{"e":0.625,"r":-0.5,"d":1},{"e":0.63,"r":0.5,"d":1},{"e":0.635,"r":-0.8,"d":1},{"e":0.64,"r":-1.2,"d":1},{"e":0.645,"r":-1.6,"d":1},{"e":0.65,"r":-1.4,"d":1},
      {"e":0.655,"r":-0.5,"d":1},{"e":0.66,"r":-1.0,"d":1},{"e":0.665,"r":-0.2,"d":1},{"e":0.67,"r":0.3,"d":1},{"e":0.675,"r":-0.9,"d":1},{"e":0.68,"r":-0.3,"d":1},{"e":0.69,"r":1.6,"d":1},
      {"e":0.695,"r":-0.4,"d":1},{"e":0.7,"r":-0.7,"d":1},{"e":0.705,"r":0.2,"d":1},{"e":0.71,"r":1.6,"d":1},{"e":0.72,"r":0.4,"d":1},{"e":0.725,"r":-0.5,"d":1},{"e":0.73,"r":0.2,"d":1},
      {"e":0.74,"r":0.8,"d":1},{"e":0.75,"r":-0.2,"d":1},{"e":0.76,"r":-0.6,"d":1},{"e":0.77,"r":0.1,"d":1},{"e":0.78,"r":1.4,"d":1},{"e":0.79,"r":0.5,"d":1},{"e":0.8,"r":-0.2,"d":1},
      {"e":0.81,"r":0.9,"d":1},{"e":0.82,"r":1.3,"d":1},{"e":0.83,"r":-0.3,"d":1},{"e":0.84,"r":0.5,"d":1},{"e":0.85,"r":1.0,"d":1},{"e":0.86,"r":-1.1,"d":1},{"e":0.87,"r":1.1,"d":1},
      {"e":0.88,"r":2.2,"d":1},{"e":0.89,"r":1.0,"d":1},{"e":0.9,"r":-0.5,"d":1},{"e":0.91,"r":0.2,"d":1},{"e":0.92,"r":1.8,"d":1},{"e":0.93,"r":2.3,"d":1},{"e":0.94,"r":0.5,"d":1},
      {"e":0.95,"r":-0.2,"d":1},{"e":0.96,"r":0.3,"d":1},{"e":0.97,"r":1.5,"d":1},{"e":0.98,"r":0.6,"d":1},{"e":0.99,"r":-0.4,"d":1},{"e":1.0,"r":0.2,"d":1},{"e":1.02,"r":-0.3,"d":1},
      {"e":1.04,"r":-0.5,"d":1},{"e":1.06,"r":2.0,"d":1},{"e":1.08,"r":-1.0,"d":1},{"e":1.1,"r":0.7,"d":1},{"e":1.12,"r":0.3,"d":1},{"e":1.14,"r":-1.9,"d":1},{"e":1.16,"r":1.5,"d":1},
      {"e":1.18,"r":-0.4,"d":1},{"e":1.2,"r":0.1,"d":1},{"e":1.22,"r":1.9,"d":1},{"e":1.24,"r":-0.8,"d":1},{"e":1.26,"r":0.8,"d":1},{"e":1.28,"r":-0.3,"d":1},{"e":1.3,"r":-1.1,"d":1},
      {"e":1.32,"r":0.6,"d":1},{"e":1.34,"r":1.2,"d":1},{"e":1.36,"r":-0.6,"d":1},{"e":1.38,"r":0.3,"d":1},{"e":1.4,"r":1.0,"d":1},{"e":1.42,"r":-1.0,"d":1},{"e":1.44,"r":0.4,"d":1},
      {"e":1.46,"r":-0.7,"d":1},{"e":1.48,"r":1.3,"d":1},{"e":1.5,"r":-0.5,"d":1},{"e":1.52,"r":0.8,"d":1},{"e":1.54,"r":-1.2,"d":1},{"e":1.56,"r":0.2,"d":1},{"e":1.58,"r":0.9,"d":1},
      {"e":1.6,"r":-0.5,"d":1},{"e":1.62,"r":0.6,"d":1},{"e":1.64,"r":-0.2,"d":1},{"e":1.66,"r":2.7,"d":1},{"e":1.68,"r":1.0,"d":1},{"e":1.7,"r":-0.3,"d":1},{"e":1.72,"r":0.3,"d":1},
      {"e":1.74,"r":0.8,"d":1},{"e":1.76,"r":-0.6,"d":1},{"e":1.78,"r":1.6,"d":1},{"e":1.8,"r":-0.4,"d":1},{"e":1.82,"r":0.5,"d":1},{"e":1.84,"r":-0.6,"d":1},{"e":1.86,"r":-1.0,"d":1},
      {"e":1.88,"r":0.6,"d":1},{"e":1.9,"r":-1.1,"d":1},{"e":1.92,"r":0.3,"d":1},{"e":1.95,"r":-0.3,"d":1},{"e":1.98,"r":0.5,"d":1},{"e":2.0,"r":-0.5,"d":1},{"e":2.03,"r":-1.4,"d":1},
      {"e":2.06,"r":-0.6,"d":1},{"e":2.09,"r":0.1,"d":1},{"e":2.12,"r":-0.9,"d":1},{"e":2.15,"r":-1.0,"d":1},{"e":2.18,"r":-1.7,"d":1},{"e":2.21,"r":-2.3,"d":1},{"e":2.24,"r":-0.6,"d":1},
      {"e":2.27,"r":-1.4,"d":1},{"e":2.3,"r":0.2,"d":1},{"e":2.33,"r":-0.6,"d":1},{"e":2.36,"r":0.7,"d":1},{"e":2.39,"r":1.5,"d":1},{"e":2.42,"r":0.0,"d":1},{"e":2.45,"r":1.0,"d":1},
      {"e":2.48,"r":-0.4,"d":1},{"e":2.52,"r":0.6,"d":1},{"e":2.56,"r":-0.2,"d":1},{"e":2.6,"r":1.0,"d":1},{"e":2.64,"r":0.3,"d":1},{"e":2.68,"r":-0.1,"d":1},{"e":2.72,"r":1.9,"d":1},
      {"e":2.76,"r":0.6,"d":1},{"e":2.8,"r":-0.2,"d":1},{"e":2.84,"r":0.4,"d":1},{"e":2.88,"r":1.3,"d":1},{"e":2.92,"r":0.0,"d":1},{"e":2.96,"r":0.7,"d":1},{"e":2.99,"r":0.2,"d":1}
    ],
    "zero": [{"r": 0}]
  },
  "hconcat": [
    {
      "bounds": "flush",
      "spacing": 0,
      "title": {"text": "(a)", "orient": "bottom", "anchor": "middle", "dx": 22, "offset": 13, "font": "Liberation Serif", "fontSize": 18, "fontWeight": "normal", "color": "#111"},
      "vconcat": [
        {
          "width": 528,
          "height": 253,
          "encoding": {
            "x": {"field": "e", "type": "quantitative", "scale": {"type": "log", "domain": [0.2, 3], "nice": false}, "axis": null},
            "y": {"field": "y", "type": "quantitative", "scale": {"type": "log", "domain": [0.00133, 5], "nice": false},
              "axis": {"title": "counts s⁻¹ keV⁻¹", "titlePadding": 4, "format": "~g",
                "values": [0.002,0.003,0.004,0.005,0.006,0.007,0.008,0.009,0.01,0.02,0.03,0.04,0.05,0.06,0.07,0.08,0.09,0.1,0.2,0.3,0.4,0.5,0.6,0.7,0.8,0.9,1,2,3,4,5],
                "labelExpr": "indexof([0.01,0.1,1], datum.value) >= 0 ? datum.label : ''",
                "labelFontSize": {"condition": {"test": "indexof([0.01,0.1,1], datum.value) >= 0", "value": 12}, "value": 0},
                "tickSize": {"condition": {"test": "indexof([0.01,0.1,1], datum.value) >= 0", "value": 4}, "value": 2}}}
          },
          "layer": [
            {
              "data": {"name": "ca"},
              "mark": {"type": "line", "clip": true, "strokeWidth": 1.4, "interpolate": "monotone"},
              "encoding": {
                "color": {"field": "c", "type": "nominal",
                  "scale": {"domain": ["ACX2", "LHB", "CGM", "Hot Corona", "CXB", "FWC"], "range": ["#8c564b", "#1f77b4", "#d62728", "#9467bd", "#2ca02c", "#ff7f0e"]},
                  "legend": {"orient": "none", "legendX": -2, "legendY": 2, "direction": "horizontal", "columns": 6, "columnPadding": 31, "title": null,
                    "labelFont": "Open Sans", "labelFontSize": 16, "labelColor": "#222", "labelOffset": 3,
                    "symbolType": "M-1,-0.55H1V0.55H-1Z", "symbolSize": 169, "symbolStrokeWidth": 0,
                    "encode": {"symbols": {"update": {"fill": {"scale": "color", "field": "value"}, "fillOpacity": {"value": 1}, "stroke": {"value": "transparent"}}}}}}
              }
            },
            {
              "data": {"name": "ka"},
              "mark": {"type": "line", "clip": true, "color": "black", "strokeWidth": 3.5, "strokeDash": [3, 3.5], "strokeCap": "butt", "interpolate": "monotone"}
            },
            {
              "data": {"name": "ma"},
              "mark": {"type": "line", "clip": true, "color": "black", "strokeWidth": 1.6, "interpolate": "monotone"}
            },
            {
              "data": {"name": "da"},
              "mark": {"type": "errorbar", "color": "#222", "thickness": 1.1, "clip": true},
              "encoding": {"yError": {"field": "d"}}
            },
            {
              "data": {"name": "da"},
              "mark": {"type": "tick", "orient": "horizontal", "size": 6, "thickness": 1, "color": "#222", "clip": true}
            }
          ]
        },
        {
          "width": 528,
          "height": 130,
          "layer": [
            {
              "data": {"name": "ra"},
              "mark": {"type": "errorbar", "color": "#222", "thickness": 1.1},
              "encoding": {
                "x": {"field": "e", "type": "quantitative", "scale": {"type": "log", "domain": [0.2, 3], "nice": false},
                  "axis": {"title": "Energy (keV)", "titlePadding": 3, "format": "~g",
                    "values": [0.2,0.3,0.4,0.5,0.6,0.7,0.8,0.9,1,2,3],
                    "labelExpr": "indexof([0.2,0.3,0.5,1,2,3], datum.value) >= 0 ? datum.label : ''",
                    "tickSize": {"condition": {"test": "indexof([0.2,0.3,0.5,1,2,3], datum.value) >= 0", "value": 4}, "value": 2}}},
                "y": {"field": "r", "type": "quantitative", "scale": {"domain": [-4.67, 4.58], "nice": false, "zero": false},
                  "axis": {"title": "(data-model)/error", "titlePadding": 4, "values": [-4, -2, 0, 2, 4]}},
                "yError": {"field": "d"}
              }
            },
            {
              "data": {"name": "ra"},
              "mark": {"type": "tick", "orient": "horizontal", "size": 5, "thickness": 1, "color": "#222"},
              "encoding": {
                "x": {"field": "e", "type": "quantitative"},
                "y": {"field": "r", "type": "quantitative"}
              }
            },
            {
              "data": {"name": "zero"},
              "mark": {"type": "rule", "color": "black", "strokeWidth": 1.5},
              "encoding": {"y": {"field": "r", "type": "quantitative"}}
            }
          ]
        }
      ]
    },
    {
      "bounds": "flush",
      "spacing": 0,
      "title": {"text": "(b)", "orient": "bottom", "anchor": "middle", "dx": 22, "offset": 13, "font": "Liberation Serif", "fontSize": 18, "fontWeight": "normal", "color": "#111"},
      "vconcat": [
        {
          "width": 528,
          "height": 253,
          "encoding": {
            "x": {"field": "e", "type": "quantitative", "scale": {"type": "log", "domain": [0.2, 3], "nice": false}, "axis": null},
            "y": {"field": "y", "type": "quantitative", "scale": {"type": "log", "domain": [0.00133, 5], "nice": false},
              "axis": {"title": "counts s⁻¹ keV⁻¹", "titlePadding": 4, "format": "~g",
                "values": [0.002,0.003,0.004,0.005,0.006,0.007,0.008,0.009,0.01,0.02,0.03,0.04,0.05,0.06,0.07,0.08,0.09,0.1,0.2,0.3,0.4,0.5,0.6,0.7,0.8,0.9,1,2,3,4,5],
                "labelExpr": "indexof([0.01,0.1,1], datum.value) >= 0 ? datum.label : ''",
                "labelFontSize": {"condition": {"test": "indexof([0.01,0.1,1], datum.value) >= 0", "value": 12}, "value": 0},
                "tickSize": {"condition": {"test": "indexof([0.01,0.1,1], datum.value) >= 0", "value": 4}, "value": 2}}}
          },
          "layer": [
            {
              "data": {"name": "cb"},
              "mark": {"type": "line", "clip": true, "strokeWidth": 1.4, "interpolate": "monotone"},
              "encoding": {
                "color": {"field": "c", "type": "nominal",
                  "scale": {"domain": ["ACX2", "LHB", "CGM", "Hot Corona", "CXB", "FWC"], "range": ["#8c564b", "#1f77b4", "#d62728", "#9467bd", "#2ca02c", "#ff7f0e"]},
                  "legend": null}
              }
            },
            {
              "data": {"name": "kb"},
              "mark": {"type": "line", "clip": true, "color": "black", "strokeWidth": 3.5, "strokeDash": [3, 3.5], "strokeCap": "butt", "interpolate": "monotone"}
            },
            {
              "data": {"name": "mb"},
              "mark": {"type": "line", "clip": true, "color": "black", "strokeWidth": 1.6, "interpolate": "monotone"}
            },
            {
              "data": {"name": "db"},
              "mark": {"type": "errorbar", "color": "#222", "thickness": 1.1, "clip": true},
              "encoding": {"yError": {"field": "d"}}
            },
            {
              "data": {"name": "db"},
              "mark": {"type": "tick", "orient": "horizontal", "size": 6, "thickness": 1, "color": "#222", "clip": true}
            }
          ]
        },
        {
          "width": 528,
          "height": 130,
          "layer": [
            {
              "data": {"name": "rb"},
              "mark": {"type": "errorbar", "color": "#222", "thickness": 1.1},
              "encoding": {
                "x": {"field": "e", "type": "quantitative", "scale": {"type": "log", "domain": [0.2, 3], "nice": false},
                  "axis": {"title": "Energy (keV)", "titlePadding": 3, "format": "~g",
                    "values": [0.2,0.3,0.4,0.5,0.6,0.7,0.8,0.9,1,2,3],
                    "labelExpr": "indexof([0.2,0.3,0.5,1,2,3], datum.value) >= 0 ? datum.label : ''",
                    "tickSize": {"condition": {"test": "indexof([0.2,0.3,0.5,1,2,3], datum.value) >= 0", "value": 4}, "value": 2}}},
                "y": {"field": "r", "type": "quantitative", "scale": {"domain": [-3.4, 4.06], "nice": false, "zero": false},
                  "axis": {"title": "(data-model)/error", "titlePadding": 4, "values": [-2, 0, 2, 4]}},
                "yError": {"field": "d"}
              }
            },
            {
              "data": {"name": "rb"},
              "mark": {"type": "tick", "orient": "horizontal", "size": 5, "thickness": 1, "color": "#222"},
              "encoding": {
                "x": {"field": "e", "type": "quantitative"},
                "y": {"field": "r", "type": "quantitative"}
              }
            },
            {
              "data": {"name": "zero"},
              "mark": {"type": "rule", "color": "black", "strokeWidth": 1.5},
              "encoding": {"y": {"field": "r", "type": "quantitative"}}
            }
          ]
        }
      ]
    }
  ]
}
